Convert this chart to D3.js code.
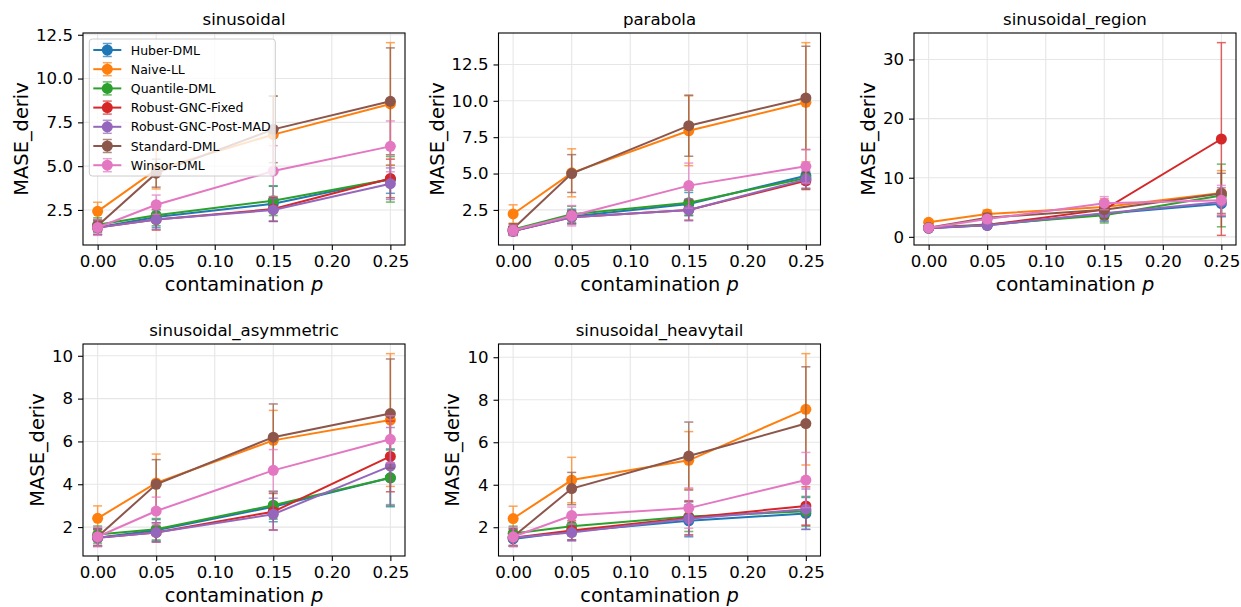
<!DOCTYPE html>
<html>
<head>
	<meta charset="utf-8">
	<title>MASE_deriv vs contamination</title>
	<script src="https://d3js.org/d3.v7.min.js" charset="utf-8"></script>
	<style>
		body{margin:0;background:#fff;}
		text{font-family:"DejaVu Sans",sans-serif;fill:#000;}
	</style>
</head>
<body>
	<script>
	var contamination=[0,0.05,0.15,0.25];
	var xTicks=[0,0.05,0.10,0.15,0.20,0.25];
	var methods=["Huber-DML","Naive-LL","Quantile-DML","Robust-GNC-Fixed","Robust-GNC-Post-MAD","Standard-DML","Winsor-DML"];
	var colors=["#1f77b4","#ff7f0e","#2ca02c","#d62728","#9467bd","#8c564b","#e377c2"];
	var scenarios=["sinusoidal","parabola","sinusoidal_region","sinusoidal_asymmetric","sinusoidal_heavytail"];

	// rows follow the order of methods
	var sinusoidalMean=[[1.5,2.1,2.85,4.25],[2.42,4.8,6.8,8.55],[1.65,2.2,3.03,4.25],[1.5,1.95,2.55,4.3],[1.5,1.95,2.5,4.0],[1.6,4.6,7.1,8.7],[1.5,2.8,4.72,6.13]];
	var sinusoidalErr=[[0.4,0.6,1.0,0.8],[0.52,1.1,2.2,3.5],[0.4,0.6,0.85,1.3],[0.4,0.6,0.7,1.1],[0.4,0.55,0.65,0.9],[0.35,0.8,1.9,3.05],[0.45,0.55,1.45,1.45]];
	var parabolaMean=[[1.05,2.05,2.9,4.85],[2.22,5.05,7.94,9.9],[1.15,2.2,3.0,4.7],[1.05,2.0,2.5,4.5],[1.05,2.0,2.5,4.6],[1.2,5.0,8.29,10.2],[1.1,2.1,4.17,5.5]];
	var parabolaErr=[[0.3,0.5,0.8,0.6],[0.63,1.65,2.4,4.1],[0.35,0.55,0.85,0.75],[0.3,0.45,0.7,0.6],[0.3,0.45,0.75,0.6],[0.35,1.3,2.1,3.55],[0.35,0.7,1.55,1.15]];
	var regionMean=[[1.45,1.95,3.9,5.6],[2.45,3.85,5.05,7.4],[1.6,2.1,3.65,7.0],[1.5,2.0,4.6,16.55],[1.5,1.95,4.0,5.9],[1.55,3.25,4.6,7.35],[1.5,3.0,5.7,6.2]];
	var regionErr=[[0.3,0.4,1.2,2.2],[0.4,0.7,1.4,3.8],[0.3,0.4,1.3,5.3],[0.3,0.4,1.5,16.3],[0.3,0.4,1.4,2.4],[0.35,0.7,1.5,3.4],[0.35,0.6,1.1,2.5]];
	var asymmetricMean=[[1.5,1.85,2.95,4.3],[2.41,4.06,6.05,7.0],[1.65,1.9,3.02,4.3],[1.5,1.75,2.72,5.3],[1.5,1.75,2.6,4.85],[1.55,4.0,6.2,7.3],[1.55,2.75,4.65,6.1]];
	var asymmetricErr=[[0.4,0.5,0.7,1.35],[0.58,1.35,1.4,3.1],[0.4,0.5,0.65,1.3],[0.4,0.45,0.85,1.65],[0.4,0.45,0.75,1.8],[0.4,1.15,1.55,2.55],[0.45,0.65,0.97,1.1]];
	var heavytailMean=[[1.45,1.8,2.3,2.65],[2.41,4.22,5.15,7.55],[1.7,2.05,2.5,2.75],[1.5,1.85,2.45,3.0],[1.5,1.75,2.4,2.85],[1.55,3.82,5.35,6.88],[1.55,2.55,2.9,4.22]];
	var heavytailErr=[[0.35,0.4,0.75,0.75],[0.58,1.07,1.35,2.62],[0.35,0.45,0.7,0.7],[0.4,0.45,0.8,0.9],[0.4,0.4,0.8,0.95],[0.4,0.76,1.6,2.67],[0.45,0.4,0.95,1.3]];

	var yTicks=[[2.5,5,7.5,10,12.5],[2.5,5,7.5,10,12.5],[0,10,20,30],[2,4,6,8,10],[2,4,6,8,10]];
	var yFormats=[".1f",".1f","d","d","d"];
	var means=[sinusoidalMean,parabolaMean,regionMean,asymmetricMean,heavytailMean];
	var errs=[sinusoidalErr,parabolaErr,regionErr,asymmetricErr,heavytailErr];

	var W=1241,H=607;
	var pw=322,ph=212;
	var lefts=[83,498.5,914,83,498.5];
	var tops=[33,33,33,344,344];

	var svg=d3.select("body").append("svg").attr("width",W).attr("height",H);

	function padded(lo,hi){var p=(hi-lo)*0.05;return [lo-p,hi+p];}

	scenarios.forEach(function(name,k){
		var M=means[k],E=errs[k];
		var lo=d3.min(M,function(r,i){return d3.min(r,function(v,j){return v-E[i][j];});});
		var hi=d3.max(M,function(r,i){return d3.max(r,function(v,j){return v+E[i][j];});});
		var x=d3.scaleLinear().domain(padded(0,0.25)).range([0,pw]);
		var y=d3.scaleLinear().domain(padded(lo,hi)).range([ph,0]);
		var g=svg.append("g").attr("transform","translate("+lefts[k]+","+tops[k]+")");

		// grid
		g.selectAll(".gx").data(xTicks).enter().append("line")
			.attr("x1",function(d){return x(d);}).attr("x2",function(d){return x(d);})
			.attr("y1",0).attr("y2",ph).attr("stroke","#e6e6e6").attr("stroke-width",1.1);
		g.selectAll(".gy").data(yTicks[k]).enter().append("line")
			.attr("y1",function(d){return y(d);}).attr("y2",function(d){return y(d);})
			.attr("x1",0).attr("x2",pw).attr("stroke","#e6e6e6").attr("stroke-width",1.1);

		// series
		M.forEach(function(row,i){
			var c=colors[i];
			var pts=row.map(function(v,j){return {x:contamination[j],m:v,e:E[i][j]};});
			var s=g.append("g");
			var eb=s.append("g").attr("stroke",c).attr("stroke-width",1.5).attr("opacity",0.7);
			pts.forEach(function(p){
				var cx=x(p.x),y1=y(p.m-p.e),y2=y(p.m+p.e);
				eb.append("line").attr("x1",cx).attr("x2",cx).attr("y1",y1).attr("y2",y2);
				eb.append("line").attr("x1",cx-4.5).attr("x2",cx+4.5).attr("y1",y1).attr("y2",y1);
				eb.append("line").attr("x1",cx-4.5).attr("x2",cx+4.5).attr("y1",y2).attr("y2",y2);
			});
			s.append("path").datum(pts)
				.attr("d",d3.line().x(function(p){return x(p.x);}).y(function(p){return y(p.m);}))
				.attr("fill","none").attr("stroke",c).attr("stroke-width",2);
			s.selectAll("circle").data(pts).enter().append("circle")
				.attr("cx",function(p){return x(p.x);}).attr("cy",function(p){return y(p.m);})
				.attr("r",5.5).attr("fill",c);
		});

		// frame
		g.append("rect").attr("width",pw).attr("height",ph).attr("fill","none").attr("stroke","#000").attr("stroke-width",1.1);

		var xa=g.append("g").attr("transform","translate(0,"+ph+")")
			.call(d3.axisBottom(x).tickValues(xTicks).tickFormat(d3.format(".2f")).tickSize(5).tickPadding(5));
		var ya=g.append("g")
			.call(d3.axisLeft(y).tickValues(yTicks[k]).tickFormat(d3.format(yFormats[k])).tickSize(5).tickPadding(5));
		[xa,ya].forEach(function(a){
			a.select(".domain").remove();
			a.attr("font-family",null).attr("font-size",null);
			a.selectAll("line").attr("stroke","#000").attr("stroke-width",1.1);
			a.selectAll("text").attr("fill","#000").style("font-size","16.6px");
		});

		var tw=0;
		ya.selectAll("text").each(function(){tw=Math.max(tw,this.getComputedTextLength());});

		g.append("text").attr("x",pw/2).attr("y",-8).attr("text-anchor","middle").style("font-size","16.6px").text(name);
		var xl=g.append("text").attr("x",pw/2).attr("y",ph+46).attr("text-anchor","middle").style("font-size","19.4px");
		xl.append("tspan").text("contamination ");
		xl.append("tspan").style("font-style","italic").text("p");
		g.append("text").attr("transform","translate("+(-tw-18)+","+(ph/2)+") rotate(-90)")
			.attr("text-anchor","middle").style("font-size","19.4px").text("MASE_deriv");

		if(k===0){
			var lg=g.append("g").attr("transform","translate(6.3,6)");
			lg.append("rect").attr("width",186).attr("height",137).attr("rx",3)
				.attr("fill","#fff").attr("fill-opacity",0.8).attr("stroke","#cccccc").attr("stroke-width",1);
			methods.forEach(function(m,i){
				var cy=11+i*19.2;
				var it=lg.append("g").attr("transform","translate(0,"+cy+")");
				var eh=it.append("g").attr("stroke",colors[i]).attr("stroke-width",1.5).attr("opacity",0.7);
				eh.append("line").attr("x1",18).attr("x2",18).attr("y1",-6.5).attr("y2",6.5);
				eh.append("line").attr("x1",13.5).attr("x2",22.5).attr("y1",-6.5).attr("y2",-6.5);
				eh.append("line").attr("x1",13.5).attr("x2",22.5).attr("y1",6.5).attr("y2",6.5);
				it.append("line").attr("x1",4).attr("x2",32).attr("stroke",colors[i]).attr("stroke-width",2);
				it.append("circle").attr("cx",18).attr("r",5.5).attr("fill",colors[i]);
				it.append("text").attr("x",41.5).attr("y",4.5).style("font-size","12.5px").text(m);
			});
		}
	});
	</script>
</body>
</html>
